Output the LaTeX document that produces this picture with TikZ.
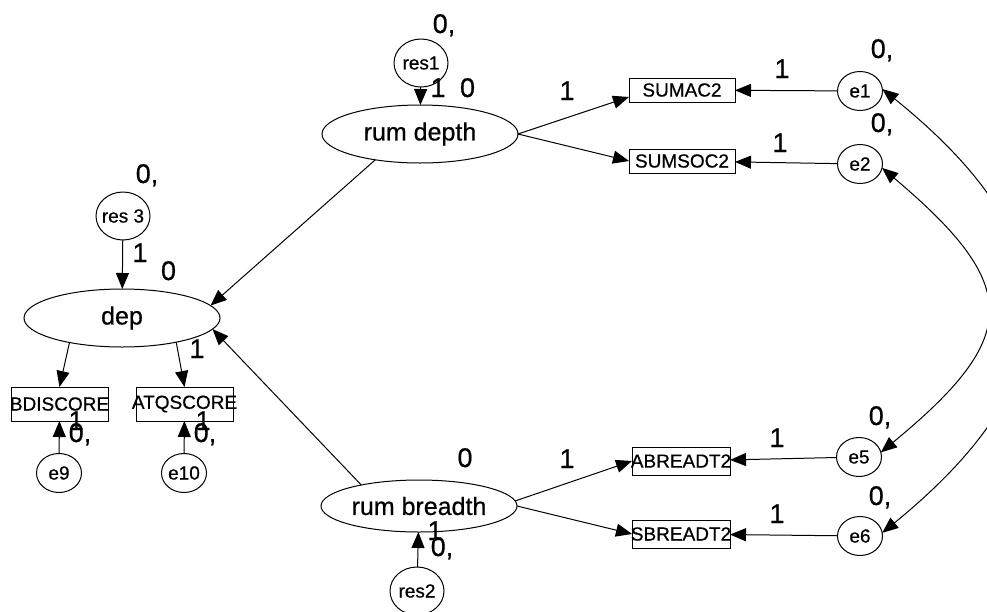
\documentclass[tikz,border=0pt]{standalone}
\usepackage{fontspec}
\setmainfont{Liberation Sans}[FakeBold=0.6]
\usetikzlibrary{shapes.geometric,arrows.meta}
\newcommand{\zw}[1]{\makebox[0pt]{#1}}
\begin{document}
\begin{tikzpicture}[x=1pt,y=-1pt,
  every node/.style={inner sep=0pt, outer sep=0pt},
  lat/.style={draw, line width=1pt, ellipse, minimum width=196pt, minimum height=58pt, font=\fontsize{25}{30}\selectfont},
  err/.style={draw, line width=1pt, ellipse, minimum width=45pt, minimum height=39pt, font=\fontsize{19}{22}\selectfont},
  resn/.style={draw, line width=1pt, ellipse, minimum width=54pt, minimum height=48pt, font=\fontsize{19}{22}\selectfont},
  obs/.style={draw, line width=1pt, rectangle, minimum width=106pt, minimum height=24pt, font=\fontsize{19}{22}\selectfont},
  lbl/.style={anchor=base, font=\fontsize{27}{30}\selectfont},
  arr/.style={line width=1pt, -{Triangle[length=16pt,width=13pt]}},
  dbl/.style={line width=1pt, {Triangle[length=16pt,width=13pt]}-{Triangle[length=16pt,width=13pt]}},
]
\useasboundingbox (0,0) rectangle (987,611);
\clip (0,0) rectangle (987,611);

% latent variables
\node[lat] (rd) at (420,134) {rum depth};
\node[lat] (dep) at (122,318) {dep};
\node[lat, minimum height=52pt] (rb) at (419,506) {rum breadth};

% residuals
\node[resn] (res1) at (421,63) {\zw{res1}};
\node[resn] (res3) at (123,216) {\zw{res 3}};
\node[resn] (res2) at (417,591) {\zw{res2}};

% observed
\node[obs] (sumac) at (682,90) {\zw{SUMAC2}};
\node[obs] (sumsoc) at (682,161) {\zw{SUMSOC2}};
\node[obs, minimum width=98pt, minimum height=28pt] (abr) at (681,461) {\zw{ABREADT2}};
\node[obs, minimum width=98pt, minimum height=28pt] (sbr) at (681,534) {\zw{SBREADT2}};
\node[obs, minimum width=97pt, minimum height=34pt] (bdi) at (59.5,404) {\zw{BDISCORE}};
\node[obs, minimum width=97pt, minimum height=34pt] (atq) at (184.5,404) {\zw{ATQSCORE}};

% errors
\node[err] (e1) at (860,91) {\zw{e1}};
\node[err] (e2) at (860,164) {\zw{e2}};
\node[err] (e5) at (859,457) {\zw{e5}};
\node[err] (e6) at (860,536) {\zw{e6}};
\node[err] (e9) at (59,473) {\zw{e9}};
\node[err] (e10) at (184,473) {\zw{e10}};

% paths
\draw[arr] (res1) -- (rd);
\draw[arr] (res3) -- (dep);
\draw[arr] (res2) -- (rb);
\draw[arr] (rd.210) -- (dep.8);
\draw[arr] (rb.160) -- (dep.-7);
\draw[arr] (rd.east) -- ([yshift=-7pt]sumac.west);
\draw[arr] (rd.east) -- (sumsoc.west);
\draw[arr] (rb.3) -- (abr.west);
\draw[arr] (rb.east) -- (sbr.west);
\draw[arr] (dep.205) -- (bdi.north);
\draw[arr] (dep.-24) -- (atq.north);
\draw[arr] (e1) -- (sumac);
\draw[arr] (e2) -- (sumsoc);
\draw[arr] (e5) -- (abr);
\draw[arr] (e6) -- (sbr);
\draw[arr] (e9) -- (bdi);
\draw[arr] (e10) -- (atq);

% covariances
\draw[dbl] (e2.-10) .. controls (1022,286) and (1021,337) .. (e5.12);
\draw[dbl] (e1.5) .. controls (1076,245) and (1073,377) .. (e6.8);

% labels
\node[lbl] (l1) at (444,33) {0,};
\node[lbl] (l2) at (438,97) {1};
\node[lbl] (l3) at (467.5,97) {0};
\node[lbl] (l4) at (567,100) {1};
\node[lbl] (l5) at (782,78) {1};
\node[lbl] (l6) at (882,58) {0,};
\node[lbl] (l7) at (780,152) {1};
\node[lbl] (l8) at (882,132) {0,};
\node[lbl] (l9) at (147,183) {0,};
\node[lbl] (l10) at (140,262) {1};
\node[lbl] (l11) at (168.5,280) {0};
\node[lbl] (l12) at (197,358) {1};
\node[lbl] (l13) at (76,430) {1};
\node[lbl] (l14) at (80,442) {0,};
\node[lbl] (l15) at (203,430) {1};
\node[lbl] (l16) at (205,442) {0,};
\node[lbl] (l17) at (465,467) {0};
\node[lbl] (l18) at (567,468) {1};
\node[lbl] (l19) at (777,447) {1};
\node[lbl] (l20) at (880,425) {0,};
\node[lbl] (l21) at (777,523) {1};
\node[lbl] (l22) at (880,505) {0,};
\node[lbl] (l23) at (435,540) {1};
\node[lbl] (l24) at (442,556) {0,};
\end{tikzpicture}
\end{document}
